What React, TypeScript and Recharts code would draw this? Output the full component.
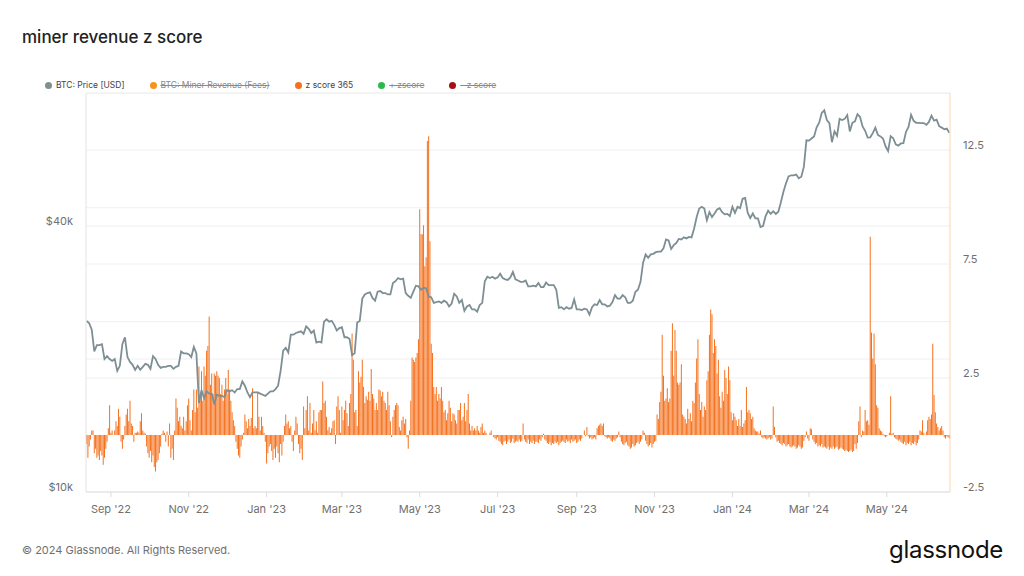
import React from "react";
import { ComposedChart, Bar, Line, XAxis, YAxis, CartesianGrid } from "recharts";

const startDate = "2022-08-13";

// z score 365, one value per day from startDate
const zScore365: number[] = [
  -0.4, -1.0, -0.5, -0.2, 0.2, 0.2, -0.8,
  -0.6, -1.0, -0.9, -1.1, -0.7, -0.9, -1.3, -1.0,
  -0.6, -0.3, 0.3, 1.3, 0.1, 0.2, 0.0, 0.2,
  0.6, 0.4, 1.15, 0.8, -0.3, -0.6, -0.2, 0.4,
  0.9, 1.15, 0.6, 1.5, 0.5, 0.4, -0.3,
  0.1, 0.1, 0.15, 0.1, 0.6, 0.95, 0.2, 0.1,
  0.05, -0.5, -0.8, -1.0, -0.7, -1.2, -0.9, -1.4,
  -1.6, -1.2, -1.1, -0.8, -0.5, 0.05, 0.2, 0.1,
  -0.3, 0.15, -0.5, 0.5, -1.0, -0.6, -1.1, 0.2,
  1.6, 1.2, 0.6, 0.8, 0.4, 0.3, 0.8, 0.2,
  0.6, 1.3, 1.6, 0.65, 0.2, 1.1, 2.0, 1.0,
  2.0, 1.2, 3.0, 1.8, 2.8, 1.5, 3.0, 2.6,
  3.7, 3.9, 5.2, 2.2, 2.7, 1.8, 2.7, 2.6,
  2.8, 2.6, 2.5, 1.8, 2.2, 1.5, 2.0,
  2.5, 1.8, 2.85, 2.0, 1.5, 1.0, 0.65, 0.4,
  -0.3, -0.6, -0.9, -1.0, -0.5, -0.2, 0.1, 0.9,
  0.6, 0.3, 0.7, 0.4, 0.75, 2.05, 0.3, 0.4,
  0.3, 1.9, 0.8, 0.2, 0.8, 0.4, 0.1,
  -0.3, -1.25, -0.8, -0.5, -0.4, -0.7, -1.1, -0.6,
  -1.0, -0.5, -0.8, -1.2, -0.4, -0.9, -0.3, 0.4,
  0.9, 0.5, 0.6, 0.3, 0.4, -0.3, -0.7, 0.2,
  0.8, 0.5, -0.4, -0.8,
  -0.6, -1.1, 1.25, 0.3, 1.1, 1.7, 0.2, 1.4,
  0.1, 0.5, 1.1, 0.2, 0.6, 0.1, 1.0, 1.1,
  1.1, 2.35, 1.4, 1.5, 0.8, 0.2, 0.35, 0.1,
  0.3, 0.6, 0.65, -0.4, 1.25, 1.7, 1.1, 0.1,
  1.25, 0.65, 1.1, 1.5, 0.95, 0.4, 1.4, 1.8,
  4.45, 3.3, 1.0, 1.1, 0.4, 2.8, 2.3, 2.55,
  3.3, 2.1, 1.4, 1.7, 1.55, 1.9, 1.5, 2.9,
  1.8, 1.6, 1.1, 1.4, 1.1, 2.0, 1.95, 1.7,
  1.9, 1.5, 1.4, 1.1, 1.9, 1.3, 0.6, -0.1,
  0.8, 1.1, 1.3, 1.4, 1.3, 0.35, 0.2, 0.65,
  0.8, 0.5, 0.7, -0.1, -0.6, 0.2,
  1.5, 3.4, 3.3, 3.2, 3.4, 3.6,
  4.2, 9.9, 8.8, 8.8, 9.2, 7.4, 7.8, 12.9, 13.1, 8.5, 4.0, 3.6,
  2.1, 1.8, 2.1, 1.5, 1.8, 1.6, 2.1, 1.5,
  1.0, 1.1, 0.65, 0.95, 1.5, 1.2, 0.6, 0.95,
  0.9, 0.65, 0.5, 1.1, 1.1, 1.4, 0.65, 0.8,
  1.4, 0.6, 1.1, 1.8, 0.5, 0.2, 0.4, 0.2,
  0.3, 0.2, 0.4, 0.2, 0.1, 0.35, 0.5, 0.1,
  0.2, 0.1, 0.0, 0.0, 0.1, 0.2, 0.0, -0.1,
  -0.15, -0.2, -0.1, -0.25, -0.3, -0.4, -0.45, -0.3,
  -0.25, -0.4, -0.3, -0.2, -0.35, -0.3, -0.15, -0.35, -0.3,
  -0.25, -0.3, -0.2, -0.3, -0.25, 0.5, -0.2, -0.3,
  -0.35, -0.2, -0.4, -0.3, -0.35, -0.25, -0.4, -0.3,
  -0.3, -0.35, -0.2, -0.25, -0.1, 0.05, -0.2, -0.25,
  -0.35, -0.4, -0.3, -0.45, -0.35, -0.4, -0.3, -0.35,
  -0.3, -0.45, -0.35, -0.3, -0.25, -0.3, -0.35, -0.2,
  -0.3, -0.25, -0.35, -0.2, -0.3, -0.25, -0.2, -0.35,
  -0.3, -0.2, -0.25, -0.15, 0.0, 0.2, -0.05, 0.35,
  -0.05, -0.15, -0.1, -0.2, -0.15, -0.1, -0.2, 0.3,
  0.4, 0.45, 0.5, 0.4, 0.5, -0.05, -0.1, -0.15,
  -0.1, -0.15, -0.25, -0.3, -0.2, -0.25, -0.15, -0.1,
  0.15, -0.1, -0.3, -0.4, -0.45, -0.35, -0.3, -0.45,
  -0.5, -0.6, -0.55, -0.4, -0.5, -0.45, -0.35, -0.3,
  -0.4, -0.3, -0.2, 0.2, 0.1, -0.25, -0.4, -0.5,
  -0.45, -0.35, -0.55, -0.4, -0.3, -0.25,
  0.9, 0.7, 1.45, 1.9, 4.4, 2.6,
  1.5, 1.6, 2.05, 1.45,
  1.6, 3.7, 4.9, 2.6, 4.6, 3.7, 2.3, 2.2, 2.3, 3.1,
  0.9, 0.8, 0.7, 0.5, 1.15, 0.7, 0.95, 0.6,
  1.5, 1.4, 2.3, 3.35, 4.2, 1.8, 1.1, 1.45,
  0.8, 1.25, 1.1, 2.4, 2.8, 4.4, 5.5, 5.3,
  3.6, 4.2, 3.9, 2.7, 3.3, 1.7, 1.2, 1.9,
  1.5, 2.85, 2.5, 1.8, 3.0, 2.4, 1.0, 0.65,
  0.95, 0.8, 0.65, 0.4, 0.7, 0.4, 1.1, 0.35,
  0.5, 0.65, 2.1, 1.0, 1.1, 0.95, 0.7, 0.8,
  0.3, 0.2, 0.15, 0.15, 0.05, 0.2, -0.1, -0.15,
  -0.1, -0.15, -0.2, -0.15, -0.1, -0.2, -0.15, 1.25,
  0.35, -0.1, -0.3, -0.25, -0.35, -0.4, -0.45, -0.35,
  -0.4, -0.5, -0.45, -0.4, -0.5, -0.55, -0.5, -0.45,
  -0.5, -0.6, -0.55, -0.45, -0.5, -0.6, -0.55, -0.25,
  -0.1, 0.15, -0.15, -0.25, 0.3, 0.25, -0.2, -0.3,
  -0.4, -0.35, -0.5, -0.45, -0.5, -0.4, -0.55, -0.5,
  -0.55, -0.6, -0.5, -0.65, -0.55, -0.6, -0.5, -0.6,
  -0.55, -0.5, -0.65, -0.6, -0.55, -0.6, -0.65, -0.7,
  -0.65, -0.7, -0.75, -0.7, -0.65, -0.75, -0.7, -0.4,
  -0.6, -0.35, 0.6, 1.25, -0.1, 0.2, 0.15, 1.1,
  0.6, 0.65, 0.45, 8.7, 4.5, 3.35, 4.45, 3.1,
  1.3, 1.2, 0.3, 0.2, 0.15, 0.05, -0.05, -0.1,
  -0.05, 0.0, 0.1, 1.7, 0.05, 0.1, -0.1, -0.15,
  -0.2, -0.25, -0.2, -0.3, -0.35, -0.4, -0.3, -0.45,
  -0.35, -0.4, -0.3, -0.45, -0.35, -0.4, -0.3, -0.45,
  -0.35, -0.2, 0.2, 0.15, 0.65, 0.1, 0.0, 0.15,
  0.65, 0.8, 0.7, 0.9, 4.0, 1.75, 1.0, 0.5,
  0.35, 0.2, 0.3, 0.4, 0.2, -0.1, -0.15, -0.05, -0.1, -0.15,
];

// BTC price in thousand USD, every second day from startDate
const btcPriceK: number[] = [
  // Aug 22
  24.4, 24.1, 23.3, 20.8, 21.5, 21.5, 21.6, 20.0, 20.3, 20.0,
  // Sep 22
  19.8, 20.0, 18.8, 19.3, 21.6, 22.4, 20.2, 19.7, 19.4, 18.9, 19.3, 18.9, 19.2, 19.5, 19.4,
  // Oct 22
  19.0, 20.3, 20.0, 19.4, 19.1, 19.2, 19.2, 19.3, 19.3, 19.0, 19.2, 19.3, 20.8, 20.6, 20.6,
  // Nov 22
  20.5, 20.2, 21.3, 20.6, 15.9, 17.0, 16.3, 16.9, 16.7, 16.7, 15.8, 16.6, 16.5, 16.5, 16.4,
  // Dec 22
  17.0, 16.9, 17.0, 16.8, 17.1, 17.1, 17.8, 17.4, 16.8, 16.4, 16.8, 16.8, 16.8, 16.7, 16.6, 16.5,
  // Jan 23
  16.7, 16.9, 16.9, 17.1, 17.4, 18.8, 20.9, 21.2, 20.7, 22.7, 22.7, 22.9, 23.0, 23.1, 22.8,
  // Feb 23
  23.7, 23.4, 22.9, 23.2, 21.8, 21.9, 21.8, 24.3, 24.6, 24.3, 24.4, 23.9, 23.2, 23.5,
  // Mar 23
  23.6, 22.4, 22.4, 22.2, 20.4, 20.6, 24.2, 24.4, 27.4, 28.0, 28.2, 28.3, 27.5, 27.1, 28.4, 28.5,
  // Apr 23
  28.2, 28.2, 28.0, 28.0, 29.7, 30.0, 30.5, 30.3, 30.4, 28.2, 27.8, 27.5, 28.4, 29.3, 29.2,
  // May 23
  28.7, 29.0, 28.9, 27.7, 27.6, 26.8, 26.9, 27.0, 26.8, 27.1, 26.9, 26.3, 26.7, 28.1, 27.7,
  // Jun 23
  26.8, 27.2, 25.7, 26.3, 26.5, 25.9, 25.9, 25.6, 26.5, 26.8, 30.0, 30.7, 30.5, 30.7, 30.4,
  // Jul 23
  30.6, 31.2, 30.5, 30.3, 30.2, 30.6, 31.5, 30.3, 30.1, 29.9, 29.9, 30.1, 29.2, 29.2, 29.3, 29.2,
  // Aug 23
  29.7, 29.1, 29.1, 29.8, 29.4, 29.4, 29.4, 28.7, 26.1, 26.2, 25.9, 26.2, 26.0, 26.1, 27.3,
  // Sep 23
  25.9, 25.9, 25.8, 26.0, 25.9, 25.2, 26.2, 26.6, 26.5, 27.2, 26.6, 26.6, 26.3, 26.4, 26.9,
  // Oct 23
  27.9, 27.4, 27.4, 27.9, 27.6, 26.8, 26.8, 27.1, 28.4, 28.7, 29.9, 33.0, 34.5, 33.9, 34.5, 34.6,
  // Nov 23
  34.9, 35.0, 35.0, 35.6, 37.3, 37.1, 35.5, 36.2, 36.6, 37.4, 37.3, 37.7, 37.5, 37.8, 37.7,
  // Dec 23
  39.5, 41.9, 43.8, 44.2, 43.8, 41.2, 43.0, 41.9, 42.7, 43.6, 43.9, 43.0, 42.5, 42.6, 42.1,
  // Jan 24
  44.2, 42.8, 44.2, 43.9, 46.1, 46.3, 42.8, 41.7, 42.7, 41.6, 41.6, 39.8, 40.0, 42.1, 43.3, 42.6,
  // Feb 24
  43.2, 42.6, 43.1, 45.3, 47.8, 50.0, 51.8, 52.1, 52.1, 52.3, 51.3, 51.7, 54.5, 62.5,
  // Mar 24
  62.4, 63.1, 63.8, 66.9, 68.5, 72.1, 73.1, 69.5, 68.4, 61.9, 65.5, 64.0, 69.9, 69.5, 69.9, 71.3,
  // Apr 24
  65.5, 68.5, 69.0, 71.6, 70.6, 67.2, 65.7, 63.4, 63.5, 64.9, 66.8, 64.3, 63.8, 63.1, 60.6,
  // May 24
  59.1, 63.9, 63.2, 61.2, 60.8, 61.5, 61.6, 65.3, 67.0, 71.4, 69.2, 68.5, 68.5, 68.4, 68.4,
  // Jun 24
  67.8, 68.8, 71.1, 69.3, 69.6, 67.3, 66.8, 66.2, 66.5, 65.0,
];

const monthTicks = [
  "2022-09-01", "2022-11-01", "2023-01-01", "2023-03-01", "2023-05-01", "2023-07-01",
  "2023-09-01", "2023-11-01", "2024-01-01", "2024-03-01", "2024-05-01",
];
const monthNames = ["Jan", "Feb", "Mar", "Apr", "May", "Jun", "Jul", "Aug", "Sep", "Oct", "Nov", "Dec"];
// price axis grid values; only 10k and 40k carry a label
const priceTicks = [10, 20, 24.3, 40, 44];
const priceLabelled = [10, 40];
const zTicks = [-2.5, 2.5, 7.5, 12.5];

const legendNames = ["BTC: Price [USD]", "BTC: Miner Revenue (Fees)", "z score 365", "+ zscore", "- z score"];
const legendColors = ["#7f9094", "#f7931a", "#f5711d", "#2db84d", "#a50f15"];
const legendHidden = [false, true, false, true, true];

const PRICE_COLOR = "#7d8f94";
const Z_COLOR = "#f5711d";
const FONT = "Inter, 'Noto Sans', sans-serif";

const dayMs = 86400000;
const start = Date.parse(startDate + "T00:00:00Z");
const rows = zScore365.map((z, i) => ({
  date: new Date(start + i * dayMs).toISOString().slice(0, 10),
  z,
  price: i % 2 === 0 && btcPriceK[i / 2] !== undefined ? btcPriceK[i / 2] : null,
}));

const fmtMonth = (s: string) => `${monthNames[parseInt(s.slice(5, 7), 10) - 1]} '${s.slice(2, 4)}`;

export default function App() {
  const tickStyle = { fontSize: 11, fill: "#6f6f6f", fontFamily: FONT };
  return (
    <div style={{ position: "absolute", left: 0, top: 0, width: 1024, height: 576, background: "#fff", fontFamily: FONT }}>
      <div style={{ position: "absolute", left: 22, top: 27, fontSize: 17, fontWeight: 500, color: "#222" }}>
        miner revenue z score
      </div>

      {/* legend */}
      <div style={{ position: "absolute", left: 45, top: 80, display: "flex", alignItems: "center", fontSize: 8.5, gap: 25 }}>
        {legendNames.map((name, i) => (
          <div key={name} style={{ display: "flex", alignItems: "center" }}>
            <span style={{ width: 7, height: 7, borderRadius: "50%", background: legendColors[i], marginRight: 4 }} />
            <span style={{ color: legendHidden[i] ? "#8a8a8a" : "#444", textDecoration: legendHidden[i] ? "line-through" : "none" }}>
              {name}
            </span>
          </div>
        ))}
      </div>

      <div style={{ position: "absolute", left: 0, top: 0 }}>
        <ComposedChart
          width={1024}
          height={576}
          data={rows}
          margin={{ top: 93, right: 14, bottom: 54, left: 26 }}
          barCategoryGap="10%"
        >
          <CartesianGrid yAxisId="price" vertical={false} stroke="#f0f0f0" />
          <CartesianGrid yAxisId="z" vertical={false} stroke="#f0f0f0" />
          <XAxis
            dataKey="date"
            ticks={monthTicks}
            interval={0}
            tickFormatter={fmtMonth}
            tick={tickStyle}
            tickSize={5}
            tickMargin={8}
            tickLine={{ stroke: "#dcdcdc" }}
            axisLine={{ stroke: "#e3e3e3" }}
            height={30}
          />
          <YAxis
            yAxisId="price"
            orientation="left"
            scale="log"
            domain={[10, 80]}
            allowDataOverflow
            ticks={priceTicks}
            interval={0}
            tickFormatter={(v: number) => (priceLabelled.includes(v) ? `$${v}k` : "")}
            tick={{ ...tickStyle, dy: -5 }}
            tickLine={false}
            tickMargin={7}
            axisLine={{ stroke: "#e3e3e3" }}
            width={60}
          />
          <YAxis
            yAxisId="z"
            orientation="right"
            domain={[-2.5, 15]}
            allowDataOverflow
            ticks={zTicks}
            interval={0}
            tick={{ ...tickStyle, dy: -5 }}
            tickLine={false}
            tickMargin={7}
            axisLine={{ stroke: "#fdd6ae" }}
            width={60}
          />
          <Line
            yAxisId="price"
            dataKey="price"
            type="linear"
            stroke={PRICE_COLOR}
            strokeWidth={1.8}
            dot={false}
            connectNulls
            isAnimationActive={false}
          />
          <Bar yAxisId="z" dataKey="z" fill={Z_COLOR} isAnimationActive={false} />
        </ComposedChart>
      </div>

      <div style={{ position: "absolute", left: 22, top: 543, fontSize: 11, color: "#6f6f6f" }}>
        © 2024 Glassnode. All Rights Reserved.
      </div>
      <div style={{ position: "absolute", right: 21, top: 535, fontSize: 24, color: "#111", letterSpacing: -0.3 }}>
        glassnode
      </div>
    </div>
  );
}
